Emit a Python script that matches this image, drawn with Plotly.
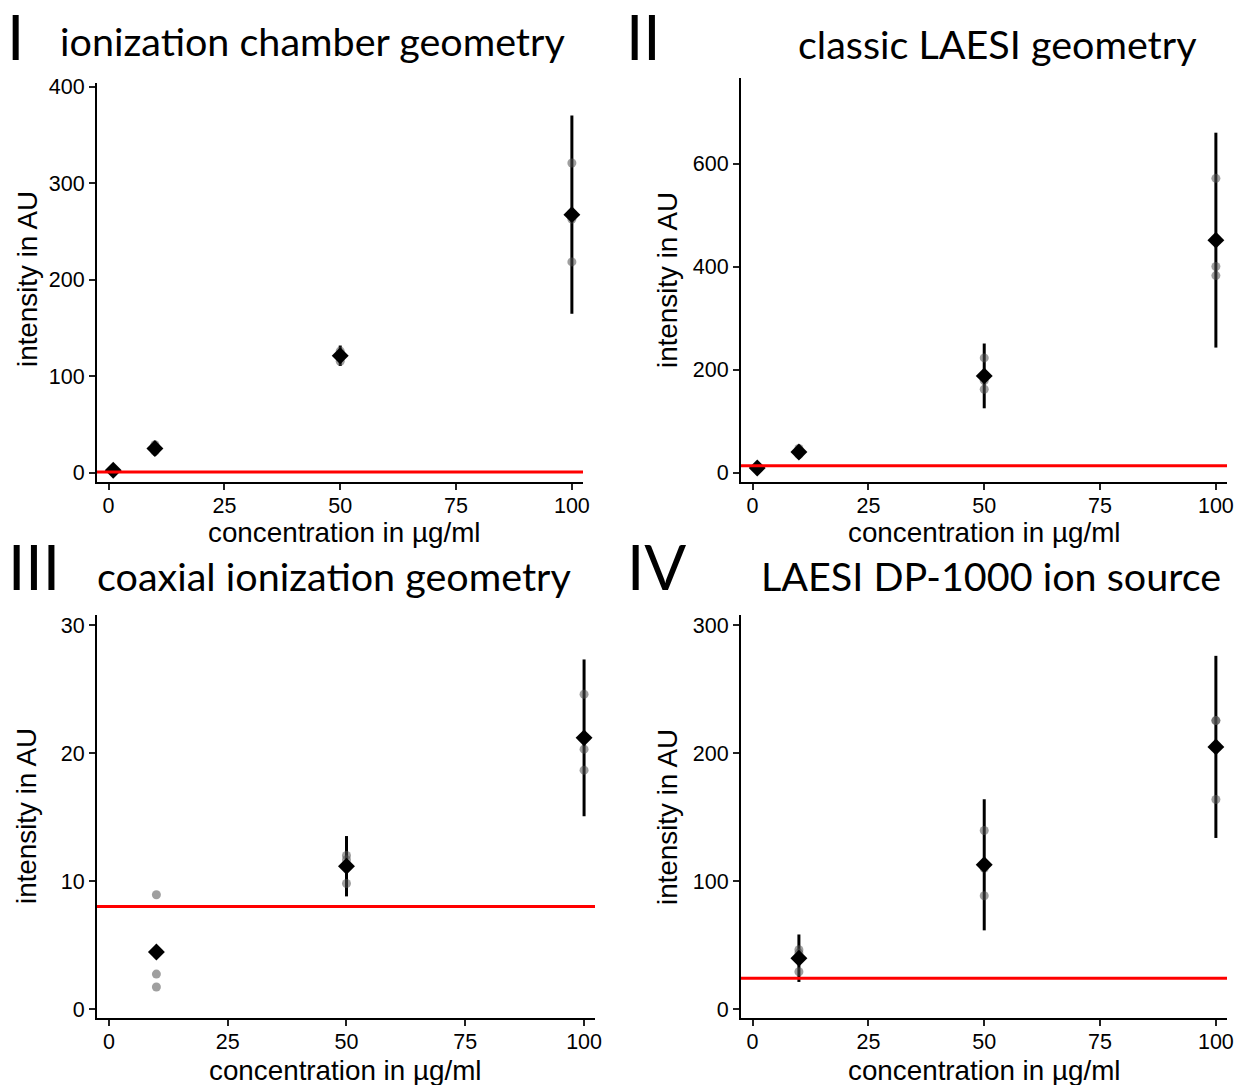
import numpy as np
import plotly.graph_objects as go

# ---------------- data ----------------
# concentrations in µg/ml
conc_I = [1, 10, 50, 100]
reps_I = [[1.5, 2.2, 3.4], [29, 24, 22], [126, 122, 115.5], [321, 263, 218.5]]
lod_I = 0.6

conc_II = [1, 10, 50, 100]
reps_II = [[7, 9, 11], [47, 38, 35], [223, 179, 162], [572, 400.6, 383]]
lod_II = 13.6

conc_III = [10, 50, 100]
reps_III = [[8.93, 2.73, 1.72], [12.0, 11.66, 9.81], [24.59, 20.3, 18.66]]
lod_III = 8.0

conc_IV = [10, 50, 100]
reps_IV = [[46.3, 43.7, 29.1], [139.5, 110, 88.5], [225.3, 225.3, 163.7]]
lod_IV = 24.0

numerals = ["I", "II", "III", "IV"]
titles = ["ionization chamber geometry", "classic LAESI geometry",
          "coaxial ionization geometry", "LAESI DP-1000 ion source"]
x_ticks = [0, 25, 50, 75, 100]
y_dticks = [100, 200, 10, 100]

x_label = "concentration in µg/ml"
y_label = "intensity in AU"

# ---------------- layout geometry (pixels) ----------------
W, H = 1243, 1085
panels = [
    dict(conc=conc_I, reps=reps_I, lod=lod_I, xpx=(97, 583), ypx=(83, 482),
         xr=[-2.5, 102.4], yr=[-9.75, 404]),
    dict(conc=conc_II, reps=reps_II, lod=lod_II, xpx=(741, 1227), ypx=(78, 482),
         xr=[-2.5, 102.4], yr=[-18.2, 767]),
    dict(conc=conc_III, reps=reps_III, lod=lod_III, xpx=(97, 595), ypx=(615, 1018),
         xr=[-2.5, 102.3], yr=[-0.7, 30.78]),
    dict(conc=conc_IV, reps=reps_IV, lod=lod_IV, xpx=(741, 1227), ypx=(615, 1018),
         xr=[-2.5, 102.4], yr=[-7.0, 307.8]),
]

num_pos = [(15, 36), (643, 36), (33.5, 566), (656.5, 566)]
title_pos = [(312, 41), (997.5, 43), (334, 575), (990.5, 575)]
ytitle_pos = [(27, 279), (667, 280), (26, 816), (667, 817)]
xtitle_pos = [(344.5, 533), (984, 533), (345, 1070), (984, 1070)]

TICK_FONT = dict(family="Liberation Sans, Arial, sans-serif", size=21.5, color="black")
AXT_FONT = dict(family="Liberation Sans, Arial, sans-serif", size=27.8, color="black")
TITLE_FONT = dict(family="Lato, sans-serif", size=39.5, color="black")
NUM_FONT = dict(family="Lato, sans-serif", size=62, color="black")

fig = go.Figure()

def px2x(p):
    return p / W

def px2y(p):
    return 1 - p / H

annotations = []
for i, p in enumerate(panels):
    k = "" if i == 0 else str(i + 1)
    xa, ya = "x" + k, "y" + k
    reps = p["reps"]
    conc = p["conc"]
    means = [float(np.mean(r)) for r in reps]
    sds = [float(np.std(r, ddof=1)) for r in reps]
    # mean ± 2 SD error bars; bars falling below zero are dropped
    bx = [c for c, m, s in zip(conc, means, sds) if m - 2 * s >= 0]
    by = [m for m, s in zip(means, sds) if m - 2 * s >= 0]
    be = [2 * s for m, s in zip(means, sds) if m - 2 * s >= 0]

    fig.add_trace(go.Scatter(
        x=bx, y=by, mode="markers", xaxis=xa, yaxis=ya, showlegend=False,
        marker=dict(size=2, color="rgba(0,0,0,0)"),
        error_y=dict(type="data", array=be, visible=True, width=0,
                     thickness=3, color="black"),
        hoverinfo="skip"))

    px_x = [c for c, r in zip(conc, reps) for _ in r]
    px_y = [v for r in reps for v in r]
    fig.add_trace(go.Scatter(
        x=px_x, y=px_y, mode="markers", xaxis=xa, yaxis=ya, showlegend=False,
        marker=dict(size=9, color="rgba(80,80,80,0.55)", line=dict(width=0))))

    fig.add_trace(go.Scatter(
        x=conc, y=means, mode="markers", xaxis=xa, yaxis=ya, showlegend=False,
        marker=dict(symbol="diamond", size=13, color="black", line=dict(width=0))))

    fig.add_shape(type="line", xref=xa + " domain", yref=ya,
                  x0=0, x1=1, y0=p["lod"], y1=p["lod"],
                  line=dict(color="#ff0000", width=3), layer="above")

    common = dict(showline=True, linecolor="black", linewidth=2,
                  ticks="outside", ticklen=6, tickwidth=2, tickcolor="#222222",
                  showgrid=False, zeroline=False, tickfont=TICK_FONT,
                  mirror=False, automargin=False)
    fig.update_layout(**{
        "xaxis" + k: dict(domain=[px2x(p["xpx"][0]), px2x(p["xpx"][1])],
                          range=p["xr"], tickvals=x_ticks, anchor=ya,
                          ticklabelstandoff=-3, **common),
        "yaxis" + k: dict(domain=[px2y(p["ypx"][1]), px2y(p["ypx"][0])],
                          range=p["yr"], dtick=y_dticks[i], tick0=0, anchor=xa,
                          **common),
    })

    annotations.append(dict(text=numerals[i], x=px2x(num_pos[i][0]), y=px2y(num_pos[i][1]),
                            xref="paper", yref="paper", showarrow=False,
                            xanchor="center", yanchor="middle", font=NUM_FONT))
    annotations.append(dict(text=titles[i], x=px2x(title_pos[i][0]), y=px2y(title_pos[i][1]),
                            xref="paper", yref="paper", showarrow=False,
                            xanchor="center", yanchor="middle", font=TITLE_FONT))
    annotations.append(dict(text=y_label, x=px2x(ytitle_pos[i][0]), y=px2y(ytitle_pos[i][1]),
                            xref="paper", yref="paper", showarrow=False, textangle=-90,
                            xanchor="center", yanchor="middle", font=AXT_FONT))
    annotations.append(dict(text=x_label, x=px2x(xtitle_pos[i][0]), y=px2y(xtitle_pos[i][1]),
                            xref="paper", yref="paper", showarrow=False,
                            xanchor="center", yanchor="middle", font=AXT_FONT,
                            borderpad=0))

fig.update_layout(width=W, height=H, margin=dict(l=0, r=0, t=0, b=0, autoexpand=False),
                  paper_bgcolor="white", plot_bgcolor="white",
                  annotations=annotations, showlegend=False)

fig.write_html("out.html", config={"displayModeBar": False},
               post_script="document.body.style.margin='0';"
                           "document.body.style.overflow='hidden';")
